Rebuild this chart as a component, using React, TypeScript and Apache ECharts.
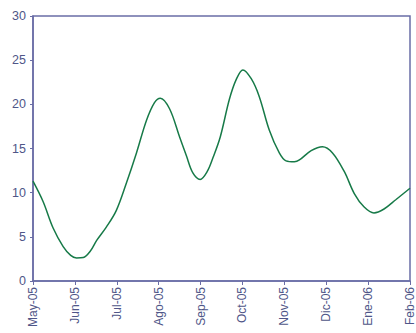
import React, { useEffect, useRef } from "react";
import * as echarts from "echarts";

const monthLabels = ["May-05", "Jun-05", "Jul-05", "Ago-05", "Sep-05", "Oct-05", "Nov-05", "Dic-05", "Ene-06", "Feb-06"];
const yTicks = [0, 5, 10, 15, 20, 25, 30];
// x position in months since May-05
const monthPos = [0, 0.24, 0.48, 0.72, 0.9, 1.04, 1.2, 1.37, 1.52, 1.75, 1.99, 2.23, 2.47, 2.71, 2.9, 3.04, 3.26, 3.5, 3.66, 3.82, 3.99, 4.16, 4.3, 4.47, 4.69, 4.85, 5.01, 5.21, 5.4, 5.64, 5.88, 6.04, 6.24, 6.36, 6.64, 6.91, 7.15, 7.43, 7.67, 7.9, 8.14, 8.38, 8.66, 9.0];
const values = [11.3, 9.0, 6.0, 3.9, 2.9, 2.6, 2.65, 3.4, 4.6, 6.1, 8.0, 11.1, 14.5, 18.2, 20.2, 20.7, 19.5, 16.3, 14.2, 12.2, 11.5, 12.4, 14.0, 16.3, 20.6, 22.8, 23.9, 22.9, 20.9, 17.1, 14.5, 13.6, 13.5, 13.7, 14.75, 15.2, 14.5, 12.4, 9.9, 8.4, 7.7, 8.15, 9.2, 10.5];

export default function App() {
  const ref = useRef<HTMLDivElement>(null);
  useEffect(() => {
    const chart = echarts.init(ref.current!, null, { renderer: "svg" });
    const axisColor = "#6a6da6";
    const labelColor = "#4f5688";
    chart.setOption({
      animation: false,
      grid: {
        left: 33,
        right: 5,
        top: 16,
        bottom: 52,
        show: true,
        borderColor: axisColor,
        borderWidth: 1.5,
      },
      xAxis: {
        type: "value",
        min: 0,
        max: 9,
        interval: 1,
        splitLine: { show: false },
        axisLine: { show: true, lineStyle: { color: axisColor, width: 1.5 } },
        axisTick: { show: true, length: 4, lineStyle: { color: axisColor } },
        axisLabel: {
          rotate: 90,
          margin: 6,
          color: labelColor,
          fontFamily: "Liberation Sans, Arial, sans-serif",
          fontSize: 12,
          showMinLabel: true,
          showMaxLabel: true,
          formatter: (v: number) => monthLabels[Math.round(v)] ?? "",
        },
      },
      yAxis: {
        type: "value",
        min: yTicks[0],
        max: yTicks[yTicks.length - 1],
        interval: 5,
        splitLine: { show: false },
        axisLine: { show: true, lineStyle: { color: axisColor, width: 1.5 } },
        axisTick: { show: true, length: 3, lineStyle: { color: axisColor } },
        axisLabel: {
          margin: 7,
          color: labelColor,
          fontFamily: "Liberation Sans, Arial, sans-serif",
          fontSize: 12.5,
        },
      },
      series: [
        {
          type: "line",
          data: monthPos.map((x, i) => [x, values[i]]),
          smooth: 0.35,
          showSymbol: false,
          lineStyle: { color: "#177a48", width: 1.5 },
        },
      ],
    });
    return () => chart.dispose();
  }, []);
  return (
    <div
      ref={ref}
      style={{ position: "fixed", left: 0, top: 0, width: 416, height: 333, background: "#fff" }}
    />
  );
}
